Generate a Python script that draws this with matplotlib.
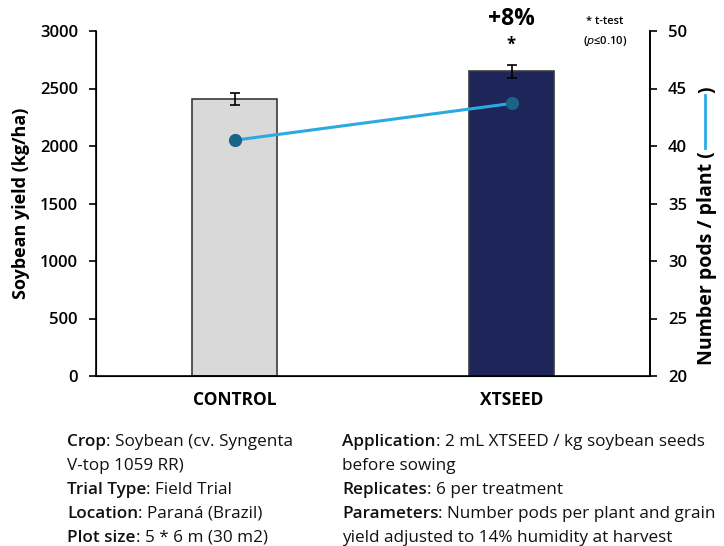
import matplotlib
matplotlib.use('Agg')
import matplotlib.pyplot as plt
from matplotlib.lines import Line2D

plt.rcParams['font.family'] = ['Open Sans', 'DejaVu Sans']

# data
categories = ['CONTROL', 'XTSEED']
yield_kg = [2410, 2650]
yield_err = [50, 55]
pods = [40.5, 43.7]
bar_colors = ['#d9d9d9', '#1e2659']

left_lines = [('Crop', ': Soybean (cv. Syngenta'), ('', 'V-top 1059 RR)'),
              ('Trial Type', ': Field Trial'), ('Location', ': Paraná (Brazil)'),
              ('Plot size', ': 5 * 6 m (30 m2)')]
right_lines = [('Application', ': 2 mL XTSEED / kg soybean seeds'), ('', 'before sowing'),
               ('Replicates', ': 6 per treatment'),
               ('Parameters', ': Number pods per plant and grain'),
               ('', 'yield adjusted to 14% humidity at harvest')]

W, H = 724, 546
fig = plt.figure(figsize=(W / 100, H / 100), dpi=100)
ax = fig.add_axes([96 / W, 1 - 376 / H, (650 - 96) / W, (376 - 31) / H])

x = range(len(categories))
ax.bar(x, yield_kg, width=0.31, color=bar_colors, edgecolor='#3a3a3a', linewidth=1.2, zorder=2)
ax.errorbar(x, yield_kg, yerr=yield_err, fmt='none', ecolor='black', elinewidth=1.2,
            capsize=3.5, capthick=1.2, zorder=3)
ax.set_xlim(-0.5, 1.5)
ax.set_ylim(0, 3000)
ax.set_yticks(range(0, 3001, 500))
ax.set_xticks(list(x))
ax.set_xticklabels(categories, fontsize=12.5, fontweight='bold')
ax.tick_params(axis='x', length=0, pad=11)
ax.tick_params(axis='y', length=5, width=1.2, labelsize=12, pad=8)
for lab in ax.get_yticklabels():
    lab.set_fontweight('semibold')
ax.spines['top'].set_visible(False)
for s in ['left', 'bottom', 'right']:
    ax.spines[s].set_linewidth(1.2)
ax.set_ylabel('Soybean yield (kg/ha)', fontsize=13, fontweight='bold', labelpad=7)

ax2 = ax.twinx()
ax2.plot(list(x), pods, color='#29abe2', linewidth=2.2, marker='o', markersize=8.5,
         markerfacecolor='#1a6488', markeredgecolor='#1a6488', zorder=4)
ax2.set_ylim(20, 50)
ax2.set_yticks(range(20, 51, 5))
ax2.tick_params(axis='y', length=5, width=1.2, labelsize=12, pad=8)
for lab in ax2.get_yticklabels():
    lab.set_fontweight('semibold')
ax2.spines['top'].set_visible(False)
ax2.spines['right'].set_linewidth(1.2)

# significance annotations
fig.text(511 / W, 1 - 19 / H, '+8%', ha='center', va='center', fontsize=16.5, fontweight='bold')
fig.text(511 / W, 1 - 45 / H, '*', ha='center', va='center', fontsize=12, fontweight='bold')
fig.text(605 / W, 1 - 22 / H, '* t-test', ha='center', va='center', fontsize=8, fontweight='semibold')
fig.text(605 / W, 1 - 41 / H, r'($\it{p}$≤0.10)', ha='center', va='center', fontsize=8, fontweight='semibold')

fig.canvas.draw()
renderer = fig.canvas.get_renderer()

# right axis label with line symbol
lbl = fig.text(707 / W, 1 - 365 / H, 'Number pods / plant (', rotation=90, ha='center', va='bottom',
               fontsize=14, fontweight='bold')
top = lbl.get_window_extent(renderer).y1
fig.add_artist(Line2D([705 / W, 705 / W], [(top + 3) / H, (top + 56) / H], color='#29abe2', linewidth=2))
fig.text(707 / W, (top + 58) / H, ')', rotation=90, ha='center', va='bottom', fontsize=14, fontweight='bold')


# footnote text, bold key followed by regular value
def put_lines(lines, x0):
    for i, (key, val) in enumerate(lines):
        y = 1 - (446 + i * 24) / H
        xpos = x0
        if key:
            t = fig.text(x0 / W, y, key, fontsize=12.3, fontweight='semibold', va='baseline', color='#111111')
            xpos = t.get_window_extent(renderer).x1
        fig.text(xpos / W, y, val, fontsize=12.3, va='baseline', color='#111111')


put_lines(left_lines, 67)
put_lines(right_lines, 342)

fig.savefig('out.png', dpi=100)
